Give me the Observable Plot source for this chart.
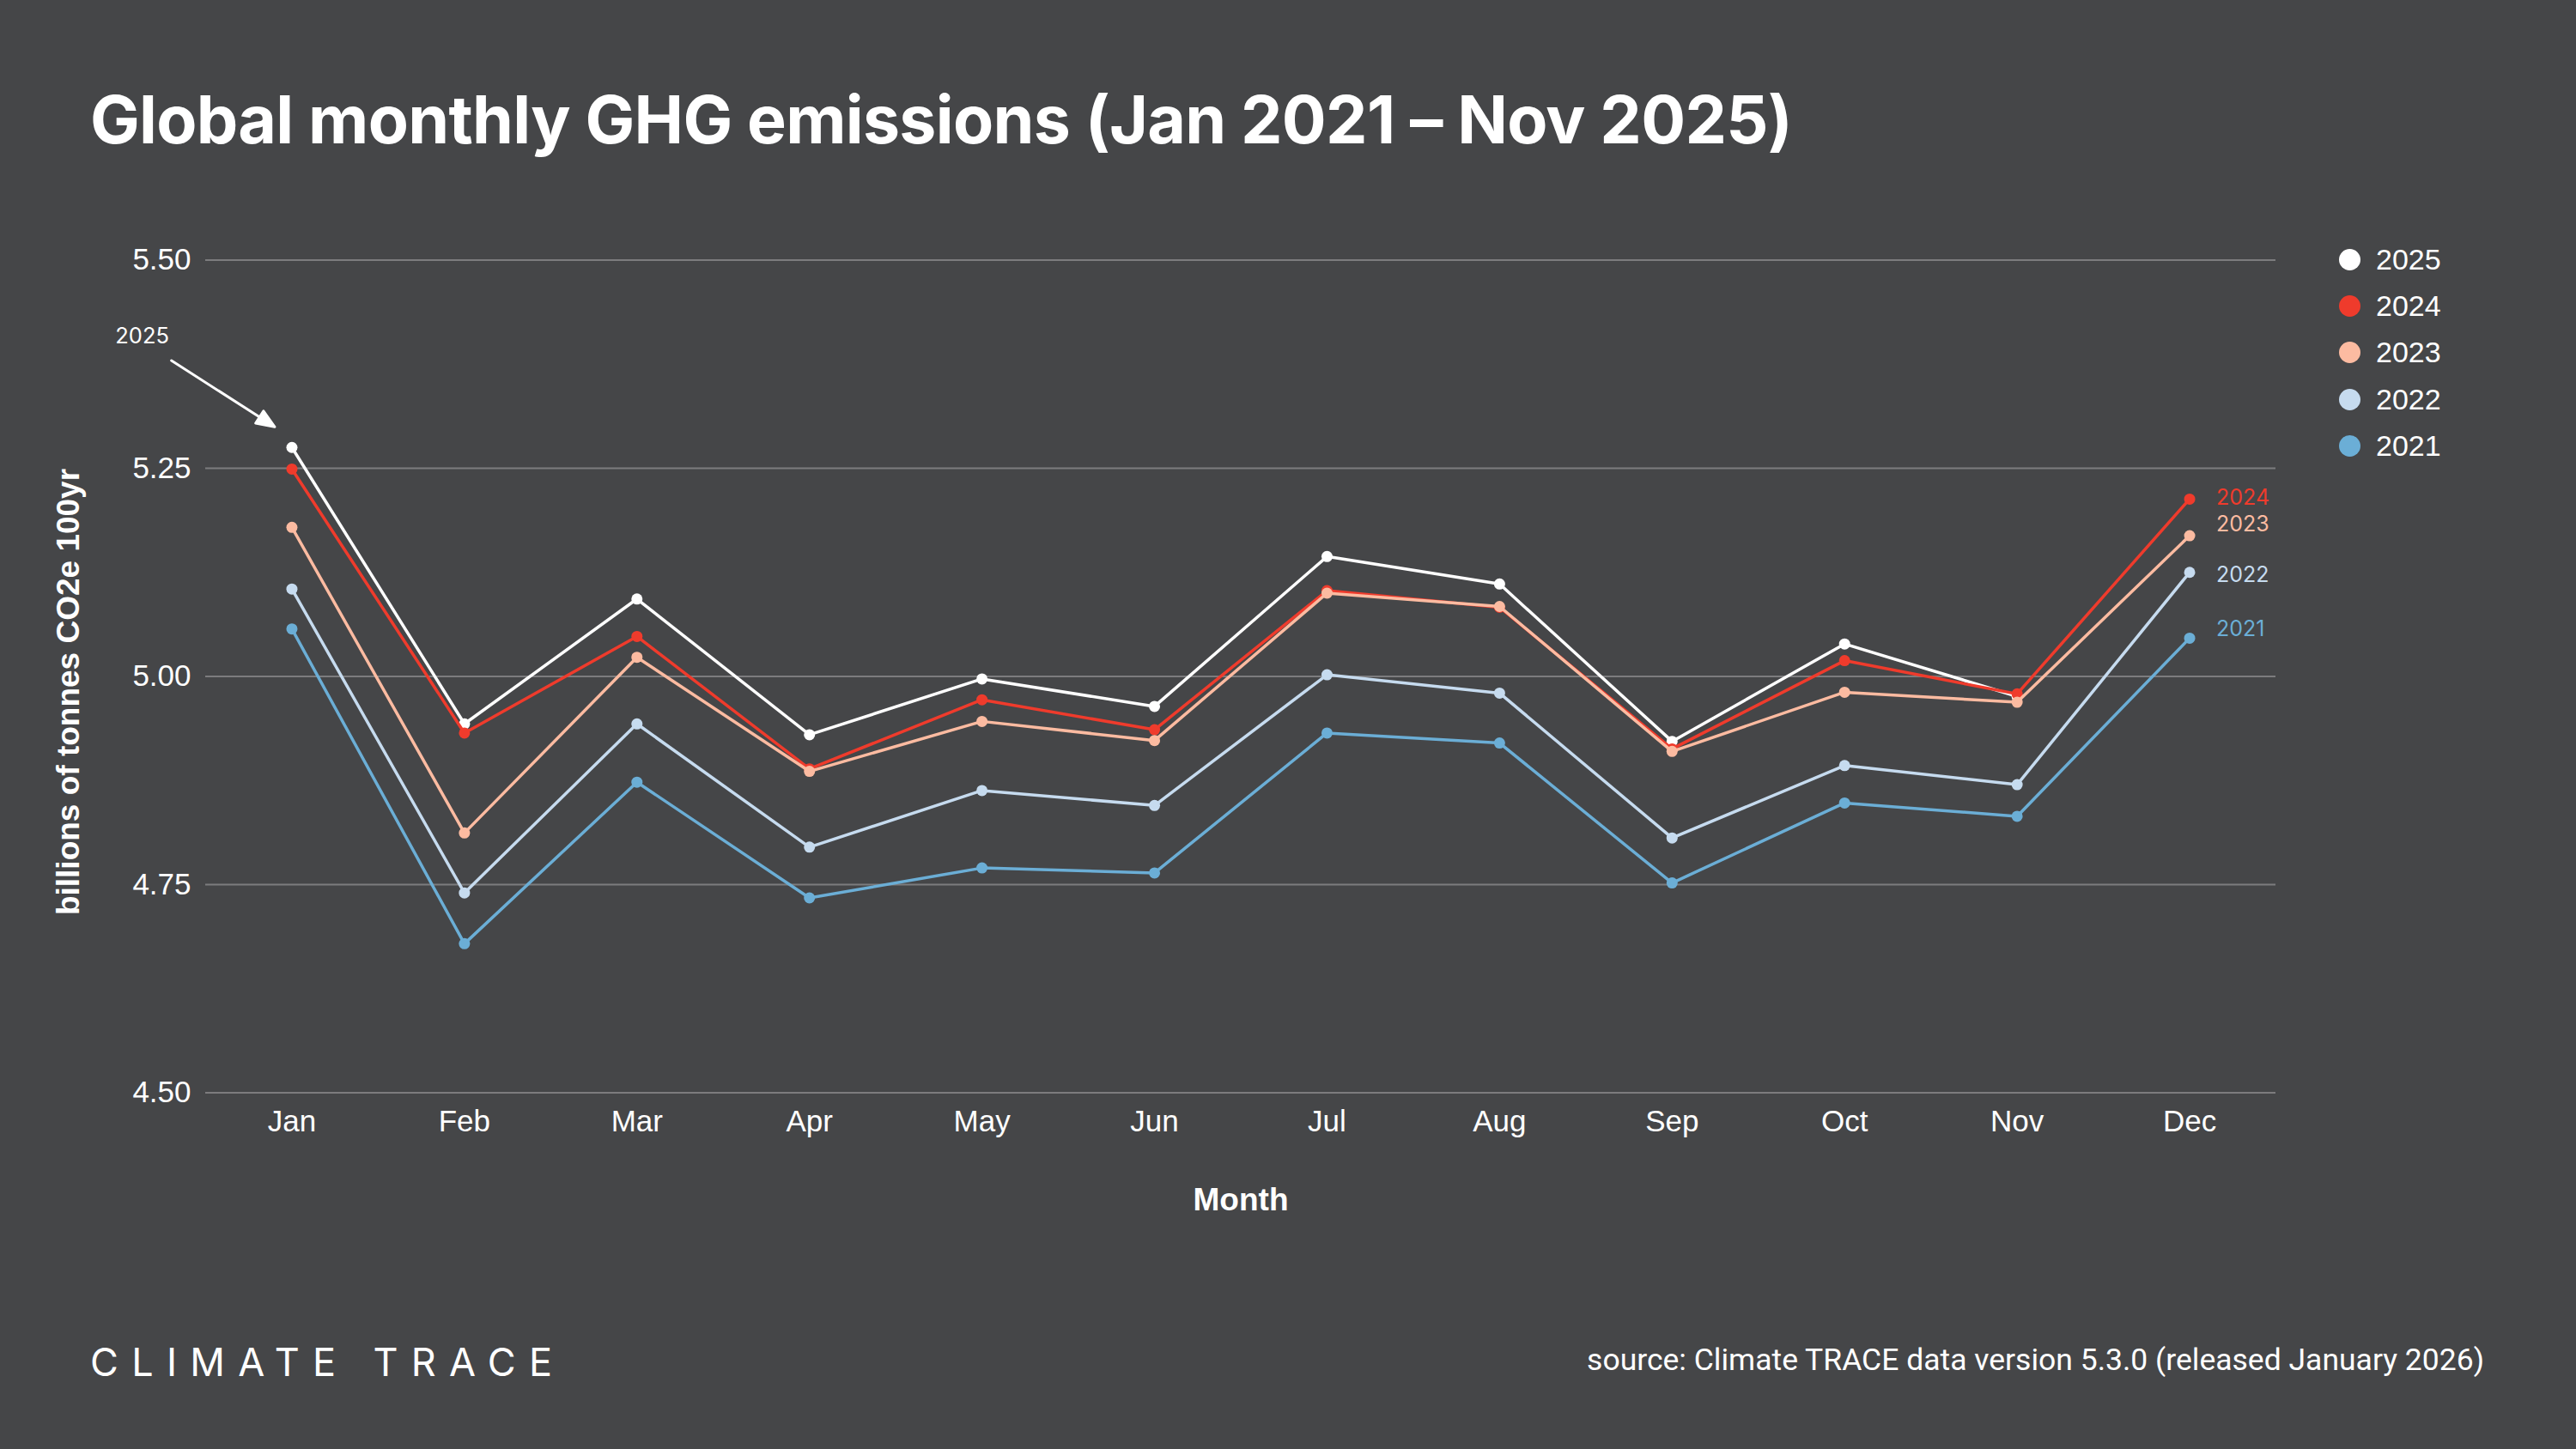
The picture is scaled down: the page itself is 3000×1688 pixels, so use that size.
<!DOCTYPE html>
<html>
<head>
<meta charset="utf-8">
<script src="https://cdn.jsdelivr.net/npm/d3@7"></script>
<script src="https://cdn.jsdelivr.net/npm/@observablehq/plot@0.6"></script>
<style>
  html, body { margin: 0; padding: 0; background: #454648; }
  #root { position: relative; width: 3000px; height: 1688px; background: #454648; overflow: hidden; color: #fff; }
  #title { position: absolute; left: 105px; top: 101px; font-family: "Inter", sans-serif; font-weight: 700; font-size: 77px; line-height: 1; white-space: nowrap; letter-spacing: -0.7px; }
  #chart { position: absolute; left: 0; top: 200px; }
  #legend { position: absolute; left: 2724px; top: 275px; font-family: "Liberation Sans", Arial, sans-serif; font-size: 34px; }
  .row { height: 54.3px; display: flex; align-items: center; }
  .sw { width: 25px; height: 25px; border-radius: 50%; margin-right: 18px; }
  #logo { position: absolute; left: 105px; top: 1564px; font-family: "Inter", sans-serif; font-weight: 400; font-size: 45px; line-height: 1; letter-spacing: 0.34em; white-space: nowrap; }
  #source { position: absolute; right: 107px; top: 1567px; font-family: "Roboto", sans-serif; font-size: 35.5px; line-height: 1; white-space: nowrap; }
</style>
</head>
<body>
<div id="root">
  <div id="title">Global monthly GHG emissions (Jan 2021 – Nov 2025)</div>
  <div id="chart"></div>
  <div id="legend"></div>
  <div id="logo">CLIMATE TRACE</div>
  <div id="source">source: Climate TRACE data version 5.3.0 (released January 2026)</div>
</div>
<script>
const months = ["Jan", "Feb", "Mar", "Apr", "May", "Jun", "Jul", "Aug", "Sep", "Oct", "Nov", "Dec"];
const years = ["2025", "2024", "2023", "2022", "2021"];
const colors = ["#ffffff", "#ef3b2c", "#fcbba1", "#c6dbef", "#6baed6"];
const v2025 = [5.275, 4.943, 5.093, 4.930, 4.997, 4.964, 5.144, 5.111, 4.922, 5.039, 4.976];
const v2024 = [5.249, 4.932, 5.048, 4.889, 4.972, 4.936, 5.103, 5.083, 4.913, 5.019, 4.979, 5.213];
const v2023 = [5.179, 4.812, 5.023, 4.886, 4.946, 4.923, 5.100, 5.084, 4.910, 4.981, 4.969, 5.169];
const v2022 = [5.105, 4.740, 4.943, 4.795, 4.863, 4.845, 5.002, 4.980, 4.806, 4.893, 4.870, 5.125];
const v2021 = [5.057, 4.679, 4.873, 4.734, 4.770, 4.764, 4.932, 4.920, 4.752, 4.848, 4.832, 5.046];
const yTicks = [4.50, 4.75, 5.00, 5.25, 5.50];
const endLabelYears = ["2024", "2023", "2022", "2021"];
const endLabelDy = [-1, -13, 3, -10];
const annotationText = "2025";
const yLabel = "billions of tonnes CO2e 100yr";
const xLabel = "Month";

const series = {"2025": v2025, "2024": v2024, "2023": v2023, "2022": v2022, "2021": v2021};
const colorOf = Object.fromEntries(years.map((y, i) => [y, colors[i]]));
const rowsOf = y => series[y].map((value, i) => ({month: months[i], value, year: y}));

const arrowShape = {
  draw(context, l) {
    const h = 21, w = 8.5;
    context.moveTo(0, 0);
    context.lineTo(0, -l + h * 0.7);
    context.moveTo(-w, -l + h);
    context.lineTo(0, -l);
    context.lineTo(w, -l + h);
    context.closePath();
  }
};

const marks = [Plot.gridY(yTicks, {stroke: "#7c7c7e", strokeOpacity: 1, strokeWidth: 2})];
for (const y of years) {
  const rows = rowsOf(y);
  marks.push(Plot.line(rows, {x: "month", y: "value", stroke: colorOf[y], strokeWidth: 3.5}));
  marks.push(Plot.dot(rows, {x: "month", y: "value", fill: colorOf[y], r: 6.5}));
}
endLabelYears.forEach((y, i) => {
  const rows = rowsOf(y);
  marks.push(Plot.text([rows[rows.length - 1]], {
    x: "month", y: "value", text: "year", fill: colorOf[y],
    dx: 31, dy: endLabelDy[i], textAnchor: "start", fontSize: 25, fontFamily: "Inter"
  }));
});
const jan2025 = rowsOf("2025")[0];
marks.push(Plot.vector([jan2025], {
  x: "month", y: "value", length: 143, rotate: 122.7, anchor: "end",
  shape: arrowShape, stroke: "white", fill: "white", strokeWidth: 3, dx: -20, dy: -24
}));
marks.push(Plot.text([jan2025], {
  x: "month", y: "value", text: () => annotationText, dx: -143, dy: -129,
  textAnchor: "end", fontSize: 25.5, fill: "white", fontFamily: "Inter"
}));
marks.push(Plot.text([xLabel], {text: d => d, frameAnchor: "bottom", lineAnchor: "middle", textAnchor: "middle", dy: 125, fontWeight: "bold", fontSize: 37, fill: "white"}));
marks.push(Plot.text([yLabel], {text: d => d, frameAnchor: "left", textAnchor: "middle", lineAnchor: "middle", rotate: -90, dx: -159, dy: 18, fontWeight: "bold", fontSize: 37, fill: "white"}));

const chart = Plot.plot({
  width: 3000,
  height: 1300,
  marginTop: 102.5,
  marginBottom: 227.5,
  marginLeft: 239,
  marginRight: 350,
  style: {background: "transparent", color: "white", fontFamily: "Liberation Sans, Arial, sans-serif", fontSize: "35px"},
  x: {type: "point", domain: months, padding: 0.5, round: false, tickSize: 0, tickPadding: 20, label: null},
  y: {domain: [4.5, 5.5], ticks: yTicks, tickFormat: d3.format(".2f"), tickSize: 0, tickPadding: 17, label: null},
  marks
});
document.getElementById("chart").appendChild(chart);

const legend = document.getElementById("legend");
years.forEach((y, i) => {
  const row = document.createElement("div");
  row.className = "row";
  const sw = document.createElement("span");
  sw.className = "sw";
  sw.style.background = colors[i];
  const t = document.createElement("span");
  t.textContent = y;
  row.appendChild(sw);
  row.appendChild(t);
  legend.appendChild(row);
});
</script>
</body>
</html>
